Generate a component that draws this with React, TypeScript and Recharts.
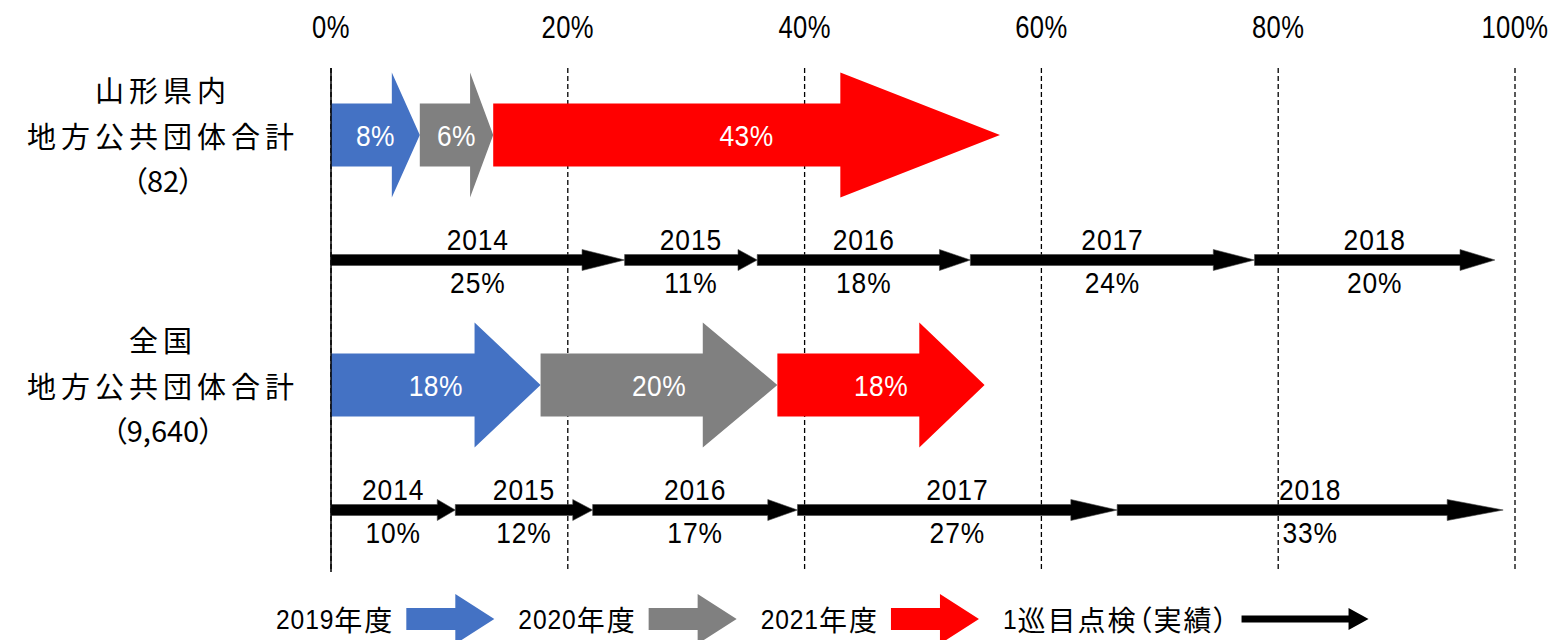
import React from 'react';
import { BarChart, Bar, XAxis, YAxis, CartesianGrid, Legend } from 'recharts';

const categories = ['yamagata', 'yamagataFirst', 'national', 'nationalFirst'];
const rowTitles: Record<string, string[]> = {
  yamagata: ['山形県内', '地方公共団体合計', '（82）'],
  national: ['全国', '地方公共団体合計', '（9,640）'],
};
const planYears = ['2019年度', '2020年度', '2021年度'];
const planColors = ['#4472C4', '#808080', '#FF0000'];
const yamagataPlan = [7.5, 6.2, 42.8];
const yamagataPlanLabels = ['8%', '6%', '43%'];
const nationalPlan = [17.7, 20.0, 17.5];
const nationalPlanLabels = ['18%', '20%', '18%'];
const firstYears = ['2014', '2015', '2016', '2017', '2018'];
const yamagataFirst = [24.8, 11.2, 18.0, 24.0, 20.3];
const yamagataFirstLabels = ['25%', '11%', '18%', '24%', '20%'];
const nationalFirst = [10.5, 11.6, 17.3, 27.0, 32.6];
const nationalFirstLabels = ['10%', '12%', '17%', '27%', '33%'];
const firstLegend = '1巡目点検（実績）';
const xTicks = [0, 20, 40, 60, 80, 100];

const NUM_FONT = "'Liberation Sans', Arial, sans-serif";
const CJK_FONT = "'Noto Sans CJK JP', sans-serif";

const planKeys = planYears.map((_, i) => 'p' + i);
const firstKeys = firstYears.map((_, i) => 'f' + i);

const buildRow = (name: string, plan: number[], first: number[]) => {
  const row: Record<string, any> = { name };
  planKeys.forEach((k, i) => (row[k] = plan[i] ?? 0));
  firstKeys.forEach((k, i) => (row[k] = first[i] ?? 0));
  return row;
};

const data = [
  buildRow(categories[0], yamagataPlan, []),
  buildRow(categories[1], [], yamagataFirst),
  buildRow(categories[2], nationalPlan, []),
  buildRow(categories[3], [], nationalFirst),
];

const planLabelMap: Record<string, string[]> = {
  yamagata: yamagataPlanLabels,
  national: nationalPlanLabels,
};
const firstLabelMap: Record<string, string[]> = {
  yamagataFirst: yamagataFirstLabels,
  nationalFirst: nationalFirstLabels,
};

// Narrow-looking numeric text: Liberation Sans compressed horizontally
const NarrowText = ({
  x,
  y,
  fs,
  sx,
  ls = 0,
  fill = '#000',
  anchor = 'middle',
  children,
}: any) => (
  <text
    transform={`translate(${x},${y}) scale(${sx},1)`}
    x={0}
    y={0}
    textAnchor={anchor}
    dominantBaseline="central"
    fontFamily={NUM_FONT}
    fontSize={fs}
    letterSpacing={ls}
    fill={fill}
  >
    {children}
  </text>
);

const fatShape = (i: number) => (props: any) => {
  const { x, y, width, height, fill, payload } = props;
  if (!width || width <= 0) return <g />;
  const cy = y + height / 2;
  const bh = 31.5;
  const hh = 62.5;
  const hl = width * 0.315;
  const xe = x + width;
  const xh = xe - hl;
  const pts = `${x},${cy - bh} ${xh},${cy - bh} ${xh},${cy - hh} ${xe},${cy} ${xh},${cy + hh} ${xh},${cy + bh} ${x},${cy + bh}`;
  const label = planLabelMap[payload?.name]?.[i] ?? '';
  return (
    <g>
      <polygon points={pts} fill={fill} />
      <NarrowText x={x + width / 2} y={cy} fs={30} sx={0.88} ls={0.5} fill="#fff">
        {label}
      </NarrowText>
    </g>
  );
};

const thinShape = (i: number) => (props: any) => {
  const { x, y, width, height, payload } = props;
  if (!width || width <= 0) return <g />;
  const cy = y + height / 2;
  const bh = 5.5;
  const hh = 10.5;
  const hl = width * 0.145;
  const xe = x + width;
  const xh = xe - hl;
  const pts = `${x},${cy - bh} ${xh},${cy - bh} ${xh},${cy - hh} ${xe},${cy} ${xh},${cy + hh} ${xh},${cy + bh} ${x},${cy + bh}`;
  const label = firstLabelMap[payload?.name]?.[i] ?? '';
  return (
    <g>
      <polygon points={pts} fill="#000" stroke="#444" strokeWidth={0.6} />
      <NarrowText x={x + width / 2} y={cy - 21} fs={30} sx={0.88} ls={1}>
        {firstYears[i]}
      </NarrowText>
      <NarrowText x={x + width / 2} y={cy + 22} fs={30} sx={0.88} ls={1}>
        {label}
      </NarrowText>
    </g>
  );
};

const XTick = (props: any) => {
  const { x, y, payload } = props;
  return (
    <NarrowText x={x} y={y - 33} fs={32} sx={0.8} ls={0.5}>
      {payload.value + '%'}
    </NarrowText>
  );
};

const YTick = (props: any) => {
  const { y, payload } = props;
  const lines = rowTitles[payload.value];
  if (!lines) return <g />;
  const offsets = [-46, 0, 44];
  return (
    <g>
      {lines.map((t, k) => (
        <text
          key={k}
          x={155}
          y={y + offsets[k]}
          textAnchor="middle"
          dominantBaseline="central"
          fontFamily={CJK_FONT}
          fontSize={29}
          letterSpacing={k === 2 ? 0 : 5}
          style={k === 2 ? { fontFeatureSettings: '"palt"' } : undefined}
          fill="#000"
        >
          {t}
        </text>
      ))}
    </g>
  );
};

const LFS = 28;
const LSX = 0.88;
const LLS = 1;
const digitWidth = (s: string) => s.length * (0.556 * LFS + LLS) * LSX;
const cjkWidth = (s: string) =>
  Array.from(s).reduce((w, c) => w + (c === '（' || c === '）' ? LFS * 0.5 : LFS) + 2, 0);

const LegendContent = () => {
  const cy = 25;
  const items: React.ReactNode[] = [];
  let cx = 0;
  const addText = (t: string, key: string) => {
    const m = t.match(/^(\d+)(.*)$/);
    const digits = m ? m[1] : '';
    const rest = m ? m[2] : t;
    items.push(
      <NarrowText key={key + 'd'} x={cx} y={cy} fs={LFS} sx={LSX} ls={LLS} anchor="start">
        {digits}
      </NarrowText>
    );
    cx += digitWidth(digits);
    items.push(
      <text
        key={key + 'c'}
        x={cx}
        y={cy}
        dominantBaseline="central"
        fontFamily={CJK_FONT}
        fontSize={LFS}
        letterSpacing={2}
        style={{ fontFeatureSettings: '"palt"' }}
        fill="#000"
      >
        {rest}
      </text>
    );
    cx += cjkWidth(rest);
  };
  planYears.forEach((t, i) => {
    if (i > 0) cx += 24;
    addText(t, 'p' + i);
    cx += 12;
    const x0 = cx;
    items.push(
      <polygon
        key={'a' + i}
        points={`${x0},${cy - 11} ${x0 + 49},${cy - 11} ${x0 + 49},${cy - 25} ${x0 + 88},${cy} ${x0 + 49},${cy + 25} ${x0 + 49},${cy + 11} ${x0},${cy + 11}`}
        fill={planColors[i]}
      />
    );
    cx += 88;
  });
  cx += 24;
  addText(firstLegend, 'f');
  cx += 12;
  const x1 = cx;
  items.push(
    <polygon
      key="af"
      points={`${x1},${cy - 3.5} ${x1 + 107},${cy - 3.5} ${x1 + 107},${cy - 11} ${x1 + 127},${cy} ${x1 + 107},${cy + 11} ${x1 + 107},${cy + 3.5} ${x1},${cy + 3.5}`}
      fill="#000"
    />
  );
  return (
    <svg width={1120} height={50} style={{ display: 'block', overflow: 'visible' }}>
      {items}
    </svg>
  );
};

export default function App() {
  return (
    <BarChart
      width={1543}
      height={632}
      data={data}
      layout="vertical"
      margin={{ top: 0, right: 36, bottom: 68, left: 0 }}
      barSize={40}
    >
      <CartesianGrid horizontal={false} vertical stroke="#000" strokeDasharray="5 3" strokeWidth={1.3} />
      <XAxis
        type="number"
        orientation="top"
        domain={[0, 100]}
        ticks={xTicks}
        height={60}
        axisLine={false}
        tickLine={false}
        tick={<XTick />}
        interval={0}
      />
      <YAxis
        type="category"
        dataKey="name"
        width={323}
        axisLine={{ stroke: '#000', strokeWidth: 1.5 }}
        tickLine={false}
        tick={<YTick />}
        interval={0}
        padding={{ top: 4, bottom: 0 }}
      />
      {planKeys.map((k, i) => (
        <Bar key={k} dataKey={k} stackId="s" fill={planColors[i]} isAnimationActive={false} shape={fatShape(i)} />
      ))}
      {firstKeys.map((k, i) => (
        <Bar key={k} dataKey={k} stackId="s" fill="#000" isAnimationActive={false} shape={thinShape(i)} />
      ))}
      <Legend
        layout="horizontal"
        verticalAlign="middle"
        align="center"
        wrapperStyle={{ top: 586, left: 268, width: 'auto', height: 50 }}
        content={<LegendContent />}
      />
    </BarChart>
  );
}
